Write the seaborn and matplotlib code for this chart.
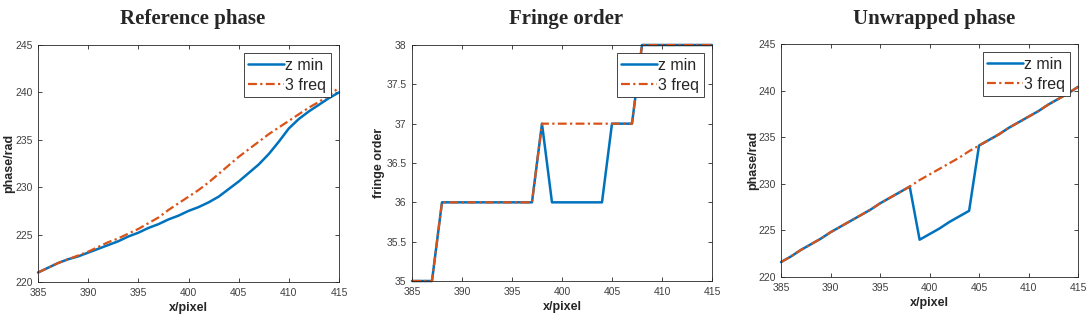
import numpy as np
import pandas as pd
import seaborn as sns
import matplotlib.pyplot as plt
from matplotlib.ticker import FormatStrFormatter

# pixel positions (x axis shared by all three panels)
x_pixel = list(range(385, 416))

# Reference phase (rad)
ref_zmin = [221.0, 221.5, 222.0, 222.4, 222.7, 223.1, 223.5, 223.9, 224.3, 224.8,
            225.2, 225.7, 226.1, 226.6, 227.0, 227.5, 227.9, 228.4, 229.0, 229.8,
            230.6, 231.5, 232.4, 233.5, 234.8, 236.2, 237.2, 238.0, 238.7, 239.4, 240.0]
ref_3freq = [221.0, 221.5, 222.0, 222.4, 222.8, 223.2, 223.7, 224.2, 224.6, 225.1,
             225.6, 226.2, 226.8, 227.6, 228.3, 229.0, 229.7, 230.5, 231.4, 232.3,
             233.2, 234.0, 234.8, 235.6, 236.3, 237.0, 237.7, 238.4, 239.0, 239.7, 240.5]

# Fringe order
order_zmin = [35, 35, 35, 36, 36, 36, 36, 36, 36, 36, 36, 36, 36, 37, 36, 36,
              36, 36, 36, 36, 37, 37, 37, 38, 38, 38, 38, 38, 38, 38, 38]
order_3freq = [35, 35, 35, 36, 36, 36, 36, 36, 36, 36, 36, 36, 36, 37, 37, 37,
               37, 37, 37, 37, 37, 37, 37, 38, 38, 38, 38, 38, 38, 38, 38]

# Unwrapped phase (rad)
unw_zmin = [221.6, 222.2, 222.9, 223.5, 224.1, 224.8, 225.4, 226.0, 226.6, 227.2,
            227.9, 228.5, 229.1, 229.7, 224.0, 224.6, 225.2, 225.9, 226.5, 227.1,
            234.1, 234.7, 235.3, 236.0, 236.6, 237.2, 237.8, 238.5, 239.1, 239.7, 240.4]
unw_3freq = [221.6, 222.2, 222.9, 223.5, 224.1, 224.8, 225.4, 226.0, 226.6, 227.2,
             227.9, 228.5, 229.1, 229.7, 230.4, 231.0, 231.6, 232.2, 232.8, 233.5,
             234.1, 234.7, 235.3, 236.0, 236.6, 237.2, 237.8, 238.5, 239.1, 239.7, 240.4]

titles = ["Reference phase", "Fringe order", "Unwrapped phase"]
ylabels = ["phase/rad", "fringe order", "phase/rad"]
ylims = [(220, 245), (35, 38), (220, 245)]
yticks = [np.arange(220, 246, 5), np.arange(35, 38.01, 0.5), np.arange(220, 246, 5)]

blue = "#0072BD"
orange = "#D95319"

sns.set_theme(style="white")
plt.rcParams["font.family"] = ["Liberation Sans", "DejaVu Sans"]

fig = plt.figure(figsize=(10.89, 3.24), dpi=100)
boxes = [[0.0349, 0.1296, 0.2764, 0.7315],
         [0.3783, 0.1327, 0.2755, 0.7284],
         [0.7172, 0.1451, 0.2727, 0.7191]]
ylabel_x = [-0.076, -0.09, -0.074]

panels = [(ref_zmin, ref_3freq), (order_zmin, order_3freq), (unw_zmin, unw_3freq)]

for i, (zmin, freq3) in enumerate(panels):
    ax = fig.add_axes(boxes[i])
    df = pd.DataFrame({"x": x_pixel, "z min": zmin, "3 freq": freq3})
    sns.lineplot(data=df, x="x", y="z min", ax=ax, color=blue, linewidth=1.8,
                 label="z min", clip_on=False)
    sns.lineplot(data=df, x="x", y="3 freq", ax=ax, color=orange, linewidth=1.6,
                 linestyle=(0, (4, 1.5, 1, 1.5)), label="3 freq", clip_on=False)
    ax.set_xlim(385, 415)
    ax.set_ylim(*ylims[i])
    ax.set_xticks(range(385, 416, 5))
    ax.set_yticks(yticks[i])
    ax.yaxis.set_major_formatter(FormatStrFormatter("%g"))
    ax.tick_params(direction="in", length=3, width=0.6, colors="#262626", labelsize=7.5,
                   top=True, right=True, bottom=True, left=True)
    ax.tick_params(axis="x", pad=4)
    ax.tick_params(axis="y", pad=4)
    ax.tick_params(labelcolor="#404040")
    for s in ax.spines.values():
        s.set_color("#262626")
        s.set_linewidth(0.6)
    ax.set_xlabel("x/pixel", fontsize=9, fontweight="bold", labelpad=3)
    ax.set_ylabel(ylabels[i], fontsize=9, fontweight="bold")
    ax.yaxis.set_label_coords(ylabel_x[i], 0.5)
    leg = ax.legend(loc="upper right", fontsize=11.5, frameon=True, fancybox=False,
                    borderpad=0.3, labelspacing=0.3, handlelength=2.2,
                    handletextpad=0.1, borderaxespad=0.5)
    leg.get_frame().set_edgecolor("#262626")
    leg.get_frame().set_linewidth(0.6)
    leg.get_frame().set_alpha(1)
    leg.set_zorder(5)
    cx = boxes[i][0] + boxes[i][2] / 2
    fig.text(cx + 0.004, 0.94, titles[i], ha="center", va="center", fontsize=15,
             fontweight="bold", family="Liberation Serif")

fig.savefig("out.png", dpi=100)
